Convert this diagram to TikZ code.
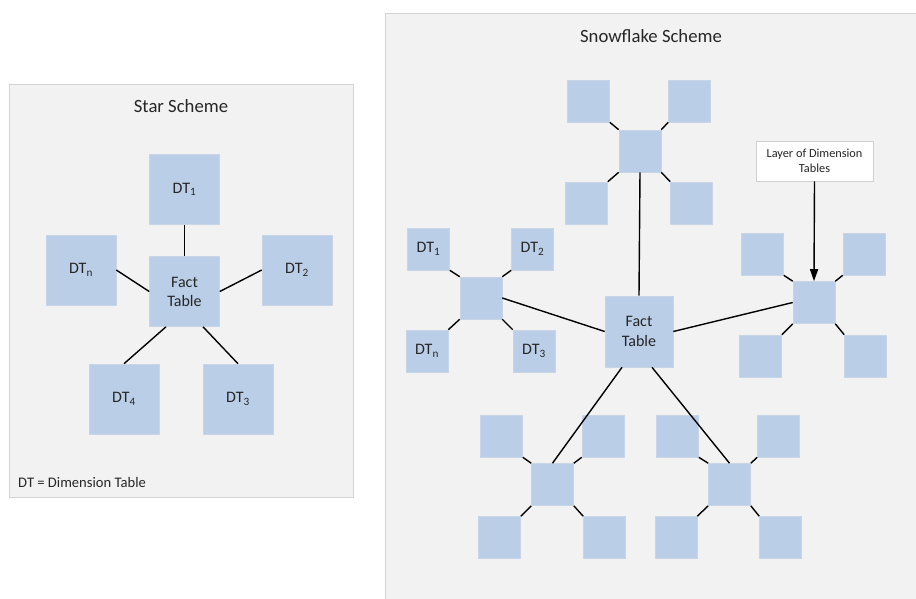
\documentclass[tikz,border=0pt]{standalone}
\usepackage{fontspec}
\setmainfont{Carlito}
\usetikzlibrary{calc,arrows.meta}
\definecolor{panelfill}{HTML}{F2F2F2}
\definecolor{paneledge}{HTML}{D4D4D4}
\definecolor{tablefill}{HTML}{BACEE7}
\definecolor{tableedge}{HTML}{C8D5E6}
\definecolor{noteedge}{HTML}{D0D0D0}
\definecolor{inktext}{HTML}{262626}
\tikzset{
  panel/.style={draw=paneledge, line width=1pt, fill=panelfill},
  tablebase/.style={rectangle, fill=tablefill, draw=tableedge, line width=0.6pt, inner sep=0pt, text=inktext},
  bigtable/.style={tablebase, minimum width=70pt, minimum height=70pt, font=\fontsize{16}{19}\selectfont, align=center},
  smalltable/.style={tablebase, minimum width=42pt, minimum height=42pt, font=\fontsize{16}{19}\selectfont},
  facttable/.style={tablebase, minimum width=68pt, minimum height=71pt, font=\fontsize{16}{19.5}\selectfont, align=center},
  title/.style={font=\fontsize{18.7}{22}\selectfont, inner sep=0pt, text=inktext},
  note/.style={rectangle, draw=noteedge, line width=0.8pt, fill=white, minimum width=117pt, minimum height=40pt, inner sep=0pt, align=center, text=inktext, font=\fontsize{12.3}{15}\selectfont},
  link/.style={line width=1.4pt, black},
}
\newcommand{\dt}[1]{DT\textsubscript{#1}}
\begin{document}
\begin{tikzpicture}[x=1pt, y=-1pt]
  \useasboundingbox (0,0) rectangle (916,598);
  \fill[white] (0,0) rectangle (916,598);

  % ---------- star scheme ----------
  \draw[panel] (9,84) rectangle (353,497);
  \node[title] (startitle) at (181,106) {Star Scheme};
  \node[bigtable] (sdt1) at (184.5,189.5) {\dt{1}};
  \node[bigtable] (sdtn) at (81,270) {\dt{n}};
  \node[bigtable] (sfact) at (184.5,291.5) {Fact\\Table};
  \node[bigtable] (sdt2) at (297,270) {\dt{2}};
  \node[bigtable] (sdt4) at (124,399) {\dt{4}};
  \node[bigtable] (sdt3) at (238,399) {\dt{3}};
  \node[anchor=west, inner sep=0pt, text=inktext, font=\fontsize{14.6}{17}\selectfont] (legend) at (18,482) {DT = Dimension Table};

  \draw[link] (sdt1.south) -- (sfact.north);
  \draw[link] (sdtn.east) -- (sfact.west);
  \draw[link] (sdt2.west) -- (sfact.east);
  \draw[link] (sdt4.north) -- ($(sfact.south)+(-18.5,0)$);
  \draw[link] (sdt3.north) -- ($(sfact.south)+(18.5,0)$);

  % ---------- snowflake scheme ----------
  \draw[panel] (385,13) rectangle (925,610);
  \node[title] (snowtitle) at (651,36) {Snowflake Scheme};

  \node[facttable] (fact) at (639,331.5) {Fact\\Table};

  % top branch
  \node[smalltable] (tc)  at (640,151) {};
  \node[smalltable] (ttl) at (588.5,101) {};
  \node[smalltable] (ttr) at (689.5,101) {};
  \node[smalltable] (tbl) at (586.5,203) {};
  \node[smalltable] (tbr) at (691.5,203) {};

  % left branch
  \node[smalltable] (lc)  at (481,298) {};
  \node[smalltable] (ltl) at (428.5,249) {\dt{1}};
  \node[smalltable] (ltr) at (532.5,249) {\dt{2}};
  \node[smalltable] (lbl) at (427,351) {\dt{n}};
  \node[smalltable] (lbr) at (534,351) {\dt{3}};

  % right branch
  \node[smalltable] (rc)  at (814,302.5) {};
  \node[smalltable] (rtl) at (762.5,254) {};
  \node[smalltable] (rtr) at (864,254) {};
  \node[smalltable] (rbl) at (760.5,356) {};
  \node[smalltable] (rbr) at (865.5,356) {};

  % lower left branch
  \node[smalltable] (ac)  at (552.5,484.5) {};
  \node[smalltable] (atl) at (501.5,436) {};
  \node[smalltable] (atr) at (603,436) {};
  \node[smalltable] (abl) at (499.5,537.5) {};
  \node[smalltable] (abr) at (604.5,537.5) {};

  % lower right branch
  \node[smalltable] (bc)  at (729.5,484.5) {};
  \node[smalltable] (btl) at (677.5,436) {};
  \node[smalltable] (btr) at (778.5,436) {};
  \node[smalltable] (bbl) at (676,537.5) {};
  \node[smalltable] (bbr) at (780.5,537.5) {};

  % corner links inside every branch
  \foreach \p in {t,l,r,a,b}{
    \draw[link] (\p tl.south east) -- (\p c.north west);
    \draw[link] (\p tr.south west) -- (\p c.north east);
    \draw[link] (\p bl.north east) -- (\p c.south west);
    \draw[link] (\p br.north west) -- (\p c.south east);
  }

  % links from the fact table to each branch
  \draw[link] (tc.south) -- (fact.north);
  \draw[link] (lc.east) -- (fact.west);
  \draw[link] (fact.east) -- (rc.west);
  \draw[link] ($(fact.south)+(-17,0)$) -- (ac.north);
  \draw[link] ($(fact.south)+(13,0)$) -- (bc.north);

  % annotation
  \node[note] (layer) at (814.5,161) {Layer of Dimension\\Tables};
  \draw[link, -{Triangle[length=12pt, width=8pt]}] (layer.south) -- (rc.north);
\end{tikzpicture}
\end{document}
